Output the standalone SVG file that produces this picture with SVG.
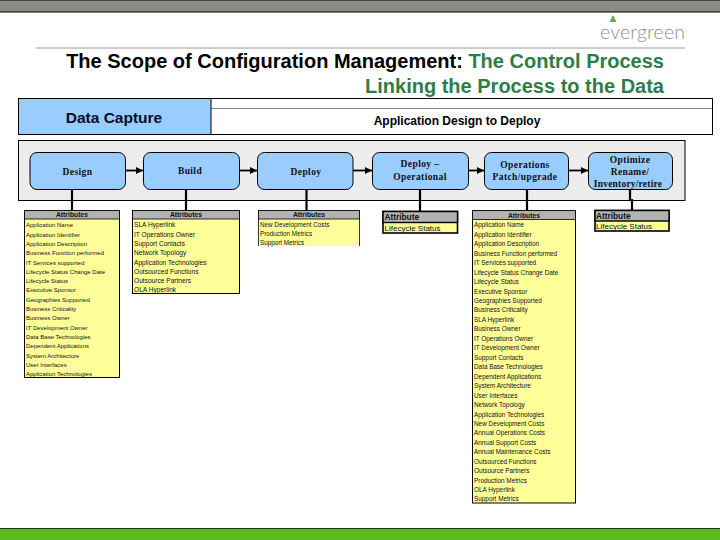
<svg xmlns="http://www.w3.org/2000/svg" width="720" height="540" viewBox="0 0 720 540">
<defs>
<marker id="ah" markerUnits="userSpaceOnUse" markerWidth="8" markerHeight="8" refX="7" refY="4" orient="auto"><path d="M0 0.500L7 4L0 7.500Z" fill="#000"/></marker>
</defs>
<style>
text{font-family:"Liberation Sans",Arial,sans-serif}
.node rect{fill:#99ccff;stroke:#000;stroke-width:1}
.node text{font-family:"Liberation Serif","Times New Roman",serif;font-weight:bold;font-size:9.500px;letter-spacing:.4px;text-anchor:middle;fill:#111}
.bx{fill:#ffff99;stroke:#000;stroke-width:1}
.bx2{fill:#ffff99;stroke:#000;stroke-width:1.600}
.hd{fill:#b2b2b2;stroke:#000;stroke-width:.8}
.hd2{fill:#b2b2b2;stroke:#000;stroke-width:1.400}
.a{font-size:6.400px;fill:#111}
.a1{font-size:6px;fill:#111}
.a2{font-size:6.600px;fill:#111}
.a3{font-size:6.300px;fill:#111}
.h{font-size:6.800px;font-weight:bold;text-anchor:middle;fill:#111}
.h2{font-size:8px;fill:#111}
.h3{font-size:8.300px;font-weight:bold;fill:#111}
.c{stroke:#000;stroke-width:2.200;fill:none}
.arr{stroke:#000;stroke-width:1.800;fill:none;marker-end:url(#ah)}
</style>
<rect x="0" y="0" width="720" height="540" fill="#fff"/>
<rect x="-1" y="0" width="722" height="12" fill="#8b8b83" stroke="#000" stroke-width="1"/>
<g id="logo">
<path d="M613 15L616.500 22H609.500Z" fill="#6aa84f"/>
<text x="600" y="39" style="font-family:Lato,sans-serif;font-weight:300;font-size:19.500px;fill:#8a8f8f" textLength="85">evergreen</text>
</g>
<line x1="36" y1="48" x2="685" y2="48" stroke="#999" stroke-width="1"/>
<text x="664" y="68" text-anchor="end" style="font-weight:bold;font-size:20px;fill:#000">The Scope of Configuration Management: <tspan fill="#2e7d46">The Control Process</tspan></text>
<text x="664" y="93" text-anchor="end" style="font-weight:bold;font-size:20px;fill:#2e7d46">Linking the Process to the Data</text>

<g id="header-bar">
<rect x="18.500" y="98.500" width="694" height="36" fill="#fff" stroke="#000"/>
<line x1="211" y1="108.500" x2="712" y2="108.500" stroke="#888"/>
<rect x="18.500" y="98.500" width="192.500" height="36" fill="#99ccff" stroke="#000"/>
<text x="114" y="122.500" text-anchor="middle" style="font-size:15.500px;font-weight:bold;fill:#0b0b2a">Data Capture</text>
<text x="457" y="125" text-anchor="middle" style="font-size:12px;font-weight:bold;fill:#000">Application Design to Deploy</text>
</g>
<rect id="panel" x="18.500" y="140.500" width="666.500" height="60" fill="#ececec" stroke="#000"/>

<g id="connectors">
<path class="arr" d="M125.500 170.500H143"/>
<path class="arr" d="M239.500 170.500H257"/>
<path class="arr" d="M353 170.500H372"/>
<path class="arr" d="M468.500 170.500H484"/>
<path class="arr" d="M568.500 170.500H588"/>
<path class="c" d="M72 189V210"/>
<path class="c" d="M186 189V210"/>
<path class="c" d="M306.500 189V210"/>
<path class="c" d="M420 189V211"/>
<path class="c" d="M527 189V210"/>
<path class="c" d="M630 189V200H632V210"/>
</g>

<g id="node-design" class="node"><rect x="30" y="152.500" width="95.500" height="37" rx="7"/><text x="77.500" y="175">Design</text></g>
<g id="node-build" class="node"><rect x="143.500" y="152.500" width="96" height="37" rx="7"/><text x="190" y="174">Build</text></g>
<g id="node-deploy" class="node"><rect x="257.500" y="152.500" width="95.500" height="37" rx="7"/><text x="306" y="175">Deploy</text></g>
<g id="node-deploy-op" class="node"><rect x="372.500" y="152.500" width="96" height="37" rx="7"/><text x="420" y="167">Deploy –</text><text x="420" y="180">Operational</text></g>
<g id="node-operations" class="node"><rect x="484.500" y="152.500" width="84" height="37" rx="7"/><text x="525" y="168">Operations</text><text x="525" y="180">Patch/upgrade</text></g>
<g id="node-optimize" class="node"><rect x="588.500" y="152.500" width="84" height="37" rx="7"/><text x="630" y="163">Optimize</text><text x="630" y="174.500">Rename/</text><text x="628" y="187" style="letter-spacing:.2px">Inventory/retire</text></g>

<g id="attrs-design">
<rect class="bx" x="24.500" y="210.500" width="95" height="167"/><rect class="hd" x="24.500" y="210.500" width="95" height="8.500"/>
<text class="h" x="72" y="217.300">Attributes</text>
<text class="a1" x="26" y="227.300">Application Name</text>
<text class="a1" x="26" y="236.600">Application Identifier</text>
<text class="a1" x="26" y="245.900">Application Description</text>
<text class="a1" x="26" y="255.200">Business Function performed</text>
<text class="a1" x="26" y="264.500">IT Services supported</text>
<text class="a1" x="26" y="273.800">Lifecycle Status Change Date</text>
<text class="a1" x="26" y="283.100">Lifecycle Status</text>
<text class="a1" x="26" y="292.400">Executive Sponsor</text>
<text class="a1" x="26" y="301.700">Geographies Supported</text>
<text class="a1" x="26" y="311">Business Criticality</text>
<text class="a1" x="26" y="320.300">Business Owner</text>
<text class="a1" x="26" y="329.600">IT Development Owner</text>
<text class="a1" x="26" y="338.900">Data Base Technologies</text>
<text class="a1" x="26" y="348.200">Dependent Applications</text>
<text class="a1" x="26" y="357.500">System Architecture</text>
<text class="a1" x="26" y="366.800">User Interfaces</text>
<text class="a1" x="26" y="375.500">Application Technologies</text>
</g>

<g id="attrs-build">
<rect class="bx" x="132.500" y="210.500" width="107" height="83"/><rect class="hd" x="132.500" y="210.500" width="107" height="8.500"/>
<text class="h" x="186" y="217.300">Attributes</text>
<text class="a2" x="134" y="227.300">SLA Hyperlink</text>
<text class="a2" x="134" y="236.600">IT Operations Owner</text>
<text class="a2" x="134" y="245.900">Support Contacts</text>
<text class="a2" x="134" y="255.200">Network Topology</text>
<text class="a2" x="134" y="264.500">Application Technologies</text>
<text class="a2" x="134" y="273.800">Outsourced Functions</text>
<text class="a2" x="134" y="283.100">Outsource Partners</text>
<text class="a2" x="134" y="291.800">OLA Hyperlink</text>
</g>

<g id="attrs-deploy">
<rect x="258.500" y="210.500" width="101" height="35.500" fill="#ffff99"/>
<path d="M258.500 246V210.500H359.500V246" fill="none" stroke="#000" stroke-width=".8"/>
<rect class="hd" x="258.500" y="210.500" width="101" height="8.500"/>
<text class="h" x="309" y="217.300">Attributes</text>
<text class="a3" x="260" y="226.500">New Development Costs</text>
<text class="a3" x="260" y="235.500">Production Metrics</text>
<text class="a3" x="260" y="244.500">Support Metrics</text>
</g>

<g id="attrs-deploy-op">
<rect class="bx2" x="383" y="211.500" width="74.500" height="21.500"/><rect class="hd2" x="383" y="211.500" width="74.500" height="11"/>
<text class="h3" x="384.500" y="220">Attribute</text>
<text class="h2" x="384.500" y="231">Lifecycle Status</text>
</g>

<g id="attrs-operations">
<rect class="bx" x="472.500" y="210.500" width="103" height="292.500"/><rect class="hd" x="472.500" y="210.500" width="103" height="9"/>
<text class="h" x="524" y="217.500">Attributes</text>
<text class="a" x="474" y="227.300">Application Name</text>
<text class="a" x="474" y="236.800">Application Identifier</text>
<text class="a" x="474" y="246.200">Application Description</text>
<text class="a" x="474" y="255.700">Business Function performed</text>
<text class="a" x="474" y="265.100">IT Services supported</text>
<text class="a" x="474" y="274.600">Lifecycle Status Change Date</text>
<text class="a" x="474" y="284.100">Lifecycle Status</text>
<text class="a" x="474" y="293.500">Executive Sponsor</text>
<text class="a" x="474" y="303">Geographies Supported</text>
<text class="a" x="474" y="312.400">Business Criticality</text>
<text class="a" x="474" y="321.900">SLA Hyperlink</text>
<text class="a" x="474" y="331.400">Business Owner</text>
<text class="a" x="474" y="340.800">IT Operations Owner</text>
<text class="a" x="474" y="350.300">IT Development Owner</text>
<text class="a" x="474" y="359.700">Support Contacts</text>
<text class="a" x="474" y="369.200">Data Base Technologies</text>
<text class="a" x="474" y="378.700">Dependent Applications</text>
<text class="a" x="474" y="388.100">System Architecture</text>
<text class="a" x="474" y="397.600">User Interfaces</text>
<text class="a" x="474" y="407">Network Topology</text>
<text class="a" x="474" y="416.500">Application Technologies</text>
<text class="a" x="474" y="426">New Development Costs</text>
<text class="a" x="474" y="435.400">Annual Operations Costs</text>
<text class="a" x="474" y="444.900">Annual Support Costs</text>
<text class="a" x="474" y="454.300">Annual Maintenance Costs</text>
<text class="a" x="474" y="463.800">Outsourced Functions</text>
<text class="a" x="474" y="473.300">Outsource Partners</text>
<text class="a" x="474" y="482.700">Production Metrics</text>
<text class="a" x="474" y="492.200">OLA Hyperlink</text>
<text class="a" x="474" y="501.300">Support Metrics</text>
</g>

<g id="attrs-optimize">
<rect class="bx2" x="595" y="210.500" width="74" height="20.500"/><rect class="hd2" x="595" y="210.500" width="74" height="10.500"/>
<text class="h3" x="596" y="218.500">Attribute</text>
<text class="h2" x="596" y="229">Lifecycle Status</text>
</g>

<rect x="-1" y="528.500" width="722" height="13" fill="#5cbb1a" stroke="#1a3a10"/>
</svg>
